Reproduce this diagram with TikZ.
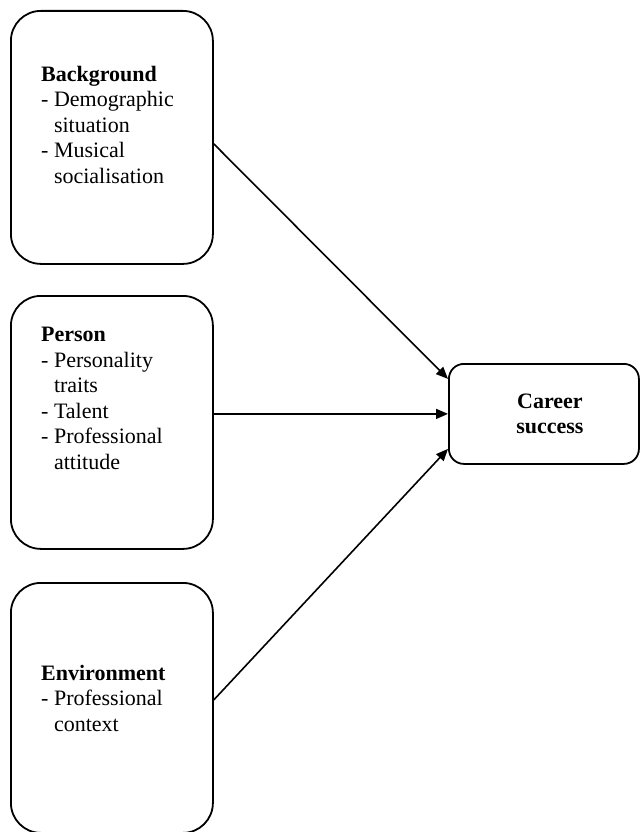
\documentclass[tikz,border=0pt]{standalone}
\usepackage{fontspec}
\setmainfont{Liberation Serif}
\usetikzlibrary{positioning,arrows.meta}
\tikzset{
  factor/.style={draw, line width=1.8pt, rounded corners=30pt, inner sep=0pt,
                 minimum width=202pt, anchor=north west},
  factortext/.style={anchor=north west, align=left, inner sep=0pt,
                     font=\fontsize{22}{25.5}\selectfont},
  link/.style={line width=1.6pt, -{Triangle[length=12pt,width=10pt]}}
}
\newcommand{\ind}{\phantom{- }}

\begin{document}
\begin{tikzpicture}[x=1pt,y=-1pt]
  \useasboundingbox (0,0) rectangle (641,832);
  % influence blocks
  \node[factor, minimum height=253pt] (background) at (10,10) {};
  \node[factortext] (backgroundtext) at ([xshift=31pt,yshift=-56pt]background.north west)
       {\textbf{Background}\\- Demographic\\\ind situation\\- Musical\\\ind socialisation};
  \node[factor, minimum height=253pt] (person) at (10,295) {};
  \node[factortext] (persontext) at ([xshift=31pt,yshift=-32pt]person.north west)
       {\textbf{Person}\\- Personality\\\ind traits\\- Talent\\- Professional\\\ind attitude};
  \node[factor, minimum height=250pt] (environment) at (10,582) {};
  \node[factortext] (environmenttext) at ([xshift=31pt,yshift=-83pt]environment.north west)
       {\textbf{Environment}\\- Professional\\\ind context};
  % outcome
  \node[factor, rounded corners=15pt, minimum width=190pt, minimum height=100pt,
        align=center, font=\fontsize{22}{25.5}\selectfont\bfseries] (career) at (448,363)
       {\hspace*{12pt}Career\\\hspace*{12pt}success};
  \draw[link] ([yshift=-6.5pt]background.east) -- ([yshift=35pt]career.west);
  \draw[link] (person.east |- career.west) -- (career.west);
  \draw[link] ([yshift=8pt]environment.east) -- ([yshift=-35pt]career.west);
\end{tikzpicture}
\end{document}
